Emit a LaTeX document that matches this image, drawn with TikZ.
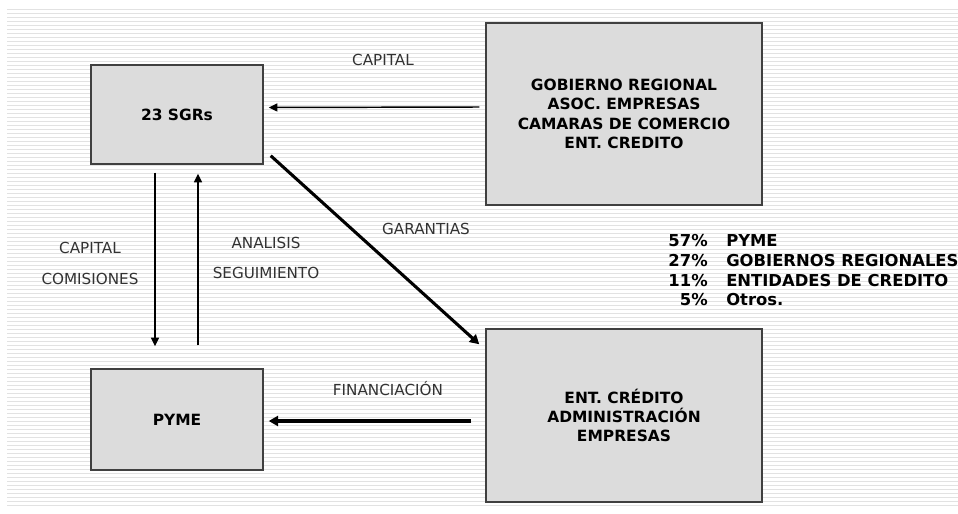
\documentclass[tikz,border=0pt]{standalone}
\usepackage{fontspec}
\setmainfont{DejaVu Sans}
\usetikzlibrary{arrows.meta,calc}
\definecolor{boxfill}{RGB}{220,220,220}
\definecolor{boxline}{RGB}{64,64,64}
\definecolor{stripe}{RGB}{226,226,226}
\definecolor{labeltext}{RGB}{50,50,50}
\tikzset{
  entity/.style={draw=boxline, line width=1.1pt, fill=boxfill, align=center,
    font=\bfseries\fontsize{11.6}{14.5}\selectfont},
  flow/.style={line width=1.1pt, -{Triangle[length=6.5pt,width=6pt]}},
  bigflow/.style={line width=2.3pt, -{Triangle[length=7pt,width=7.5pt]}},
  tag/.style={font=\fontsize{11.4}{13}\selectfont, text=labeltext},
  share/.style={font=\bfseries\fontsize{12.3}{14}\selectfont}
}

\begin{document}
\begin{tikzpicture}[x=0.75pt, y=-0.75pt]
            \useasboundingbox (0,0) rectangle (958,514);
            % striped background
            \foreach \yy in {9,13,...,508}
                \draw[stripe, line width=0.75pt] (7,\yy) -- (958,\yy);

            % boxes
            \node[entity, minimum width=129pt, minimum height=74.25pt] (sgr) at (177,114.5) {23 SGRs};
            \node[entity, minimum width=207pt, minimum height=136.5pt] (gob) at (624,114)
                {GOBIERNO REGIONAL\\ASOC. EMPRESAS\\CAMARAS DE COMERCIO\\ENT. CREDITO};
            \node[entity, minimum width=129pt, minimum height=75.75pt] (pyme) at (177,419.5) {PYME};
            \node[entity, minimum width=207pt, minimum height=129.75pt] (ent) at (624,415.5)
                {ENT. CRÉDITO\\ADMINISTRACIÓN\\EMPRESAS};

            % flows
            \draw[flow] ($(gob.west)+(-6,-7)$) -- ($(sgr.east)+(5,-7)$);
            \draw[bigflow] ($(sgr.south east)+(7,-9)$) -- ($(ent.north west)+(-6,16)$);
            \draw[flow] ($(sgr.south)+(-22,8)$) -- ($(pyme.north)+(-22,-22)$);
            \draw[flow] ($(pyme.north)+(21,-23)$) -- ($(sgr.south)+(21,9)$);
            \draw[bigflow] ($(ent.west |- pyme.east)+(-14,1.5)$) -- ($(pyme.east)+(5,1.5)$);

            % flow labels
            \node[tag] (capitaltop) at (383,60) {CAPITAL};
            \node[tag] (garantias) at (426,229) {GARANTIAS};
            \node[tag] (capitalleft) at (90,248) {CAPITAL};
            \node[tag] (comisiones) at (90,279) {COMISIONES};
            \node[tag] (analisis) at (266,243) {ANALISIS};
            \node[tag] (seguimiento) at (266,273) {SEGUIMIENTO};
            \node[tag] (financiacion) at (388,389) {FINANCIACIÓN};

            % shares
            \node[share, anchor=base east, inner sep=0pt] (pct1) at (708,246) {57\%};
            \node[share, anchor=base west, inner sep=0pt] (who1) at (726,246) {PYME};
            \node[share, anchor=base east, inner sep=0pt] (pct2) at (708,266) {27\%};
            \node[share, anchor=base west, inner sep=0pt] (who2) at (726,266) {GOBIERNOS REGIONALES};
            \node[share, anchor=base east, inner sep=0pt] (pct3) at (708,286) {11\%};
            \node[share, anchor=base west, inner sep=0pt] (who3) at (726,286) {ENTIDADES DE CREDITO};
            \node[share, anchor=base east, inner sep=0pt] (pct4) at (708,305) {5\%};
            \node[share, anchor=base west, inner sep=0pt] (who4) at (726,305) {Otros.};
\end{tikzpicture}
\end{document}
